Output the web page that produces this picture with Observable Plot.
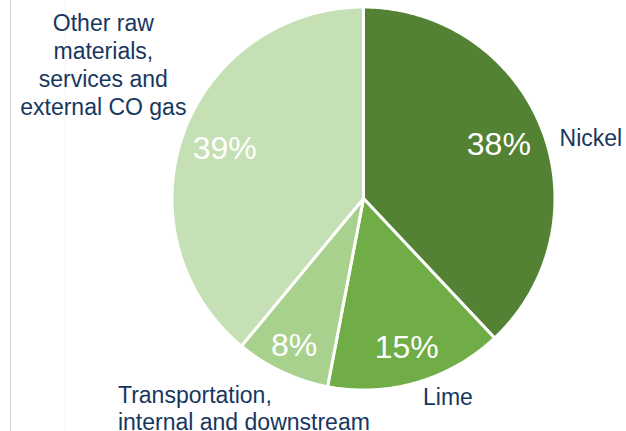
<!DOCTYPE html>
<html>
<head>
<meta charset="utf-8">
<script src="https://cdn.jsdelivr.net/npm/d3@7"></script>
<script src="https://cdn.jsdelivr.net/npm/@observablehq/plot@0.6"></script>
<style>
  html, body { margin: 0; padding: 0; background: #fff; }
  #wrap { position: relative; width: 626px; height: 431px; overflow: hidden; }
  .vline { position: absolute; top: 0; width: 1px; height: 431px; }
  #chart { position: absolute; left: 0; top: 0; }
</style>
</head>
<body>
<div id="wrap">
  <div class="vline" style="left:10px;background:#d2d2d2"></div>
  <div class="vline" style="left:65px;background:#f4f4f4"></div>
  <div id="chart"></div>
</div>
<script>
// ---- data ----
const categories = ["Nickel", "Lime", "Transportation,\ninternal and downstream", "Other raw\nmaterials,\nservices and\nexternal CO gas"];
const shares = [38, 15, 8, 39];
const percentLabels = ["38%", "15%", "8%", "39%"];
const sliceColors = ["#548235", "#70AD47", "#A9D18E", "#C5E0B4"];

// ---- geometry from data ----
const pie = d3.pie().sort(null).value(d => d)(shares);
const pts = [];
pie.forEach((s, i) => {
  pts.push({k: i, x: 0, y: 0, c: sliceColors[i]});
  const n = Math.max(2, Math.ceil((s.endAngle - s.startAngle) / 0.01));
  for (let j = 0; j <= n; j++) {
    const a = s.startAngle + (s.endAngle - s.startAngle) * j / n;
    pts.push({k: i, x: Math.sin(a), y: Math.cos(a), c: sliceColors[i]});
  }
  pts.push({k: i, x: 0, y: 0, c: sliceColors[i]});
});
const mid = pie.map(s => (s.startAngle + s.endAngle) / 2);
const R = 191.5; // px per data unit
const pctR = [0.76, 0.81, 0.85, 0.77];
const pctData = pie.map((s, i) => ({
  x: Math.sin(mid[i]) * pctR[i], y: Math.cos(mid[i]) * pctR[i], t: percentLabels[i]
}));
// outside labels: anchored on slice edge, then offset in pixels
const labelStyle = [
  {dx: 18, dy: 9, textAnchor: "start", lineHeight: 1.2},
  {dx: 31, dy: 14, textAnchor: "middle", lineHeight: 1.2},
  {dx: -164, dy: 36, textAnchor: "start", lineHeight: 1.16},
  {dx: -80, dy: -70, textAnchor: "middle", lineHeight: 1.22}
];
const labelMarks = categories.map((c, i) => Plot.text([{x: Math.sin(mid[i]), y: Math.cos(mid[i]), t: c}], {
  x: "x", y: "y", text: "t",
  dx: labelStyle[i].dx, dy: labelStyle[i].dy,
  textAnchor: labelStyle[i].textAnchor, lineAnchor: "middle",
  lineHeight: labelStyle[i].lineHeight,
  fill: "#17375E", fontSize: 23
}));

const chart = Plot.plot({
  width: 626, height: 431,
  marginLeft: 363 - R, marginRight: 626 - 363 - R,
  marginTop: 198 - R, marginBottom: 431 - 198 - R,
  x: {domain: [-1, 1], axis: null},
  y: {domain: [-1, 1], axis: null},
  color: {type: "identity"},
  style: {fontFamily: "'Liberation Sans', Arial, sans-serif", background: "transparent", overflow: "visible"},
  marks: [
    Plot.line(pts, {x: "x", y: "y", z: "k", fill: "c", stroke: "#ffffff", strokeWidth: 3, strokeLinejoin: "miter", curve: "linear"}),
    Plot.text(pctData, {x: "x", y: "y", text: "t", fill: "#ffffff", fontSize: 32, lineAnchor: "middle"}),
    ...labelMarks
  ]
});
document.getElementById("chart").appendChild(chart);
</script>
</body>
</html>
